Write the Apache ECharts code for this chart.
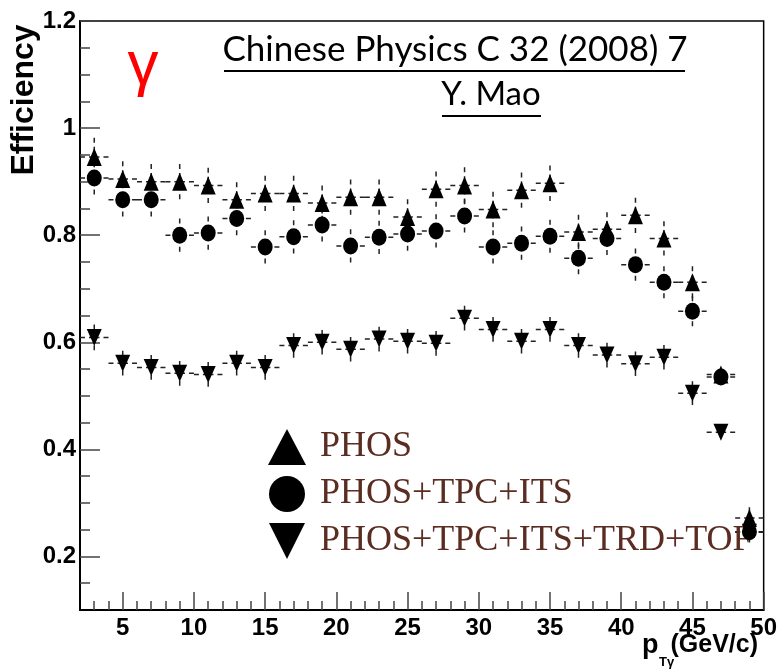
<!DOCTYPE html>
<html><head><meta charset="utf-8">
<script src="https://cdn.jsdelivr.net/npm/echarts@6/dist/echarts.min.js"></script>
<style>html,body{margin:0;padding:0;background:#fff}#c{width:780px;height:672px}</style>
</head><body><div id="c"></div>
<script>
const ptBins = [3,5,7,9,11,13,15,17,19,21,23,25,27,29,31,33,35,37,39,41,43,45,47,49];
const binHalfWidth = 1;
const phos      = [0.946,0.905,0.900,0.900,0.893,0.866,0.878,0.878,0.860,0.871,0.871,0.834,0.886,0.893,0.848,0.884,0.897,0.806,0.811,0.837,0.794,0.712,0.540,0.272];
const phosErr   = [0.036,0.033,0.033,0.033,0.033,0.033,0.033,0.033,0.033,0.033,0.033,0.033,0.033,0.034,0.033,0.033,0.033,0.032,0.032,0.033,0.032,0.030,0.010,0.020];
const phosTpcIts    = [0.907,0.866,0.866,0.800,0.804,0.831,0.778,0.797,0.819,0.780,0.796,0.802,0.808,0.836,0.778,0.785,0.798,0.757,0.794,0.745,0.712,0.658,0.535,0.246];
const phosTpcItsErr = [0.031,0.031,0.031,0.031,0.031,0.031,0.031,0.031,0.031,0.031,0.031,0.031,0.031,0.031,0.031,0.031,0.031,0.030,0.031,0.030,0.030,0.028,0.010,0.020];
const phosAll    = [0.609,0.561,0.553,0.542,0.540,0.561,0.553,0.594,0.600,0.587,0.606,0.602,0.598,0.645,0.624,0.602,0.624,0.594,0.576,0.560,0.572,0.505,0.432,0.245];
const phosAllErr = [0.024,0.023,0.023,0.023,0.023,0.023,0.023,0.023,0.023,0.023,0.023,0.023,0.023,0.023,0.023,0.023,0.023,0.023,0.023,0.023,0.023,0.022,0.010,0.015];
const seriesNames = ['PHOS','PHOS+TPC+ITS','PHOS+TPC+ITS+TRD+TOF'];
const yMajorTicks = [0.2,0.4,0.6,0.8,1.0,1.2];
const yMinorTicks = [0.15,0.25,0.3,0.35,0.45,0.5,0.55,0.65,0.7,0.75,0.85,0.9,0.95,1.05,1.1,1.15];
const xMajorTicks = [5,10,15,20,25,30,35,40,45,50];
const xMinorTicks = [3,4,6,7,8,9,11,12,13,14,16,17,18,19,21,22,23,24,26,27,28,29,31,32,33,34,36,37,38,39,41,42,43,44,46,47,48,49];

const downTri = 'path://M0,0 L10,0 L5,10 Z';
const chart = echarts.init(document.getElementById('c'), null, {renderer: 'canvas'});

function pts(vals){ return ptBins.map((x,i)=>[x, vals[i]]); }
function errData(vals, errs){ return ptBins.map((x,i)=>[x, vals[i], errs[i]]); }

function errRender(params, api){
  const x = api.value(0), y = api.value(1), e = api.value(2);
  const c = api.coord([x, y]);
  const top = api.coord([x, y + e]);
  const bot = api.coord([x, y - e]);
  const lft = api.coord([x - binHalfWidth, y]);
  const rgt = api.coord([x + binHalfWidth, y]);
  const st = {stroke: '#222', lineWidth: 1.5, lineDash: [5, 4], fill: null};
  const mk = (a) => ({type: 'line', shape: {x1: a[0], y1: a[1], x2: c[0], y2: c[1]}, style: st});
  return {type: 'group', children: [mk(top), mk(bot), mk(lft), mk(rgt)]};
}

const tickFont = {fontFamily: 'Liberation Sans', fontWeight: 'bold', fontSize: 24, color: '#000'};
const fmt = v => String(parseFloat(Number(v).toFixed(2)));

const option = {
  animation: false,
  backgroundColor: '#fff',
  grid: {left: 80, right: 13, top: 21, bottom: 62, show: true, borderColor: '#000', borderWidth: 1.5, backgroundColor: 'transparent'},
  xAxis: [
    {type: 'value', min: 2, max: 50, position: 'bottom',
     axisLine: {show: true, onZero: false, lineStyle: {color: '#000', width: 2}},
     axisTick: {show: true, inside: true, length: 18, customValues: xMajorTicks, lineStyle: {color: '#444', width: 1.5}},
     axisLabel: {show: true, customValues: xMajorTicks, margin: 6, ...tickFont, formatter: fmt},
     splitLine: {show: false}},
    {type: 'value', min: 2, max: 50, position: 'bottom',
     axisLine: {show: false}, axisLabel: {show: false}, splitLine: {show: false},
     axisTick: {show: true, inside: true, length: 9, customValues: xMinorTicks, lineStyle: {color: '#444', width: 1.5}}}
  ],
  yAxis: [
    {type: 'value', min: 0.1, max: 1.2, position: 'left',
     axisLine: {show: true, onZero: false, lineStyle: {color: '#000', width: 2}},
     axisTick: {show: true, inside: true, length: 20, customValues: yMajorTicks, lineStyle: {color: '#444', width: 1.5}},
     axisLabel: {show: true, customValues: yMajorTicks, margin: 4, ...tickFont, formatter: fmt},
     splitLine: {show: false}},
    {type: 'value', min: 0.1, max: 1.2, position: 'left',
     axisLine: {show: false}, axisLabel: {show: false}, splitLine: {show: false},
     axisTick: {show: true, inside: true, length: 10, customValues: yMinorTicks, lineStyle: {color: '#444', width: 1.5}}}
  ],
  legend: {
    show: true, selectedMode: false, orient: 'vertical', left: 263, top: 424,
    itemWidth: 38, itemHeight: 36, itemGap: 11,
    data: seriesNames,
    formatter: n => ' ' + n,
    textStyle: {fontFamily: 'Liberation Serif', fontSize: 36, color: '#5b2d22'}
  },
  series: [
    {type: 'custom', name: 'errPHOS', renderItem: errRender, data: errData(phos, phosErr), z: 1, silent: true,
     encode: {x: 0, y: 1}},
    {type: 'custom', name: 'errTPC', renderItem: errRender, data: errData(phosTpcIts, phosTpcItsErr), z: 1, silent: true,
     encode: {x: 0, y: 1}},
    {type: 'custom', name: 'errAll', renderItem: errRender, data: errData(phosAll, phosAllErr), z: 1, silent: true,
     encode: {x: 0, y: 1}},
    {type: 'scatter', name: seriesNames[0], data: pts(phos), symbol: 'triangle', symbolSize: [15, 18],
     itemStyle: {color: '#000', opacity: 1}, z: 3},
    {type: 'scatter', name: seriesNames[1], data: pts(phosTpcIts), symbol: 'circle', symbolSize: [15, 17],
     itemStyle: {color: '#000', opacity: 1}, z: 4},
    {type: 'scatter', name: seriesNames[2], data: pts(phosAll), symbol: downTri, symbolSize: [15, 17],
     itemStyle: {color: '#000', opacity: 1}, z: 5}
  ],
  graphic: [
    {type: 'text', x: 24, y: 100, rotation: Math.PI / 2,
     style: {text: 'Efficiency', fontFamily: 'Liberation Sans', fontWeight: 'bold', fontSize: 32, fill: '#000', align: 'center', verticalAlign: 'middle'}},
    {type: 'text', x: 143, y: 67,
     style: {text: 'γ', fontFamily: 'Liberation Sans', fontSize: 62, fill: '#ff0000', align: 'center', verticalAlign: 'middle'}},
    {type: 'text', x: 455, y: 67,
     style: {text: 'Chinese Physics C 32 (2008) 7', fontFamily: 'Lato', fontSize: 35, fill: '#000', align: 'center', verticalAlign: 'bottom'}},
    {type: 'line', shape: {x1: 224, y1: 71, x2: 685, y2: 71}, style: {stroke: '#000', lineWidth: 2}},
    {type: 'text', x: 491, y: 111,
     style: {text: 'Y. Mao', fontFamily: 'Lato', fontSize: 33, fill: '#000', align: 'center', verticalAlign: 'bottom'}},
    {type: 'line', shape: {x1: 442, y1: 116, x2: 541, y2: 116}, style: {stroke: '#000', lineWidth: 2}},
    {type: 'text', x: 642, y: 646,
     style: {text: 'p', fontFamily: 'Liberation Sans', fontWeight: 'bold', fontSize: 27, fill: '#000', align: 'left', verticalAlign: 'middle'}},
    {type: 'text', x: 659, y: 662,
     style: {text: 'Tγ', fontFamily: 'Liberation Sans', fontWeight: 'bold', fontSize: 13, fill: '#000', align: 'left', verticalAlign: 'middle'}},
    {type: 'text', x: 758, y: 645,
     style: {text: '(GeV/c)', fontFamily: 'Liberation Sans', fontWeight: 'bold', fontSize: 25, fill: '#000', align: 'right', verticalAlign: 'middle'}}
  ]
};
chart.setOption(option);
</script></body></html>
